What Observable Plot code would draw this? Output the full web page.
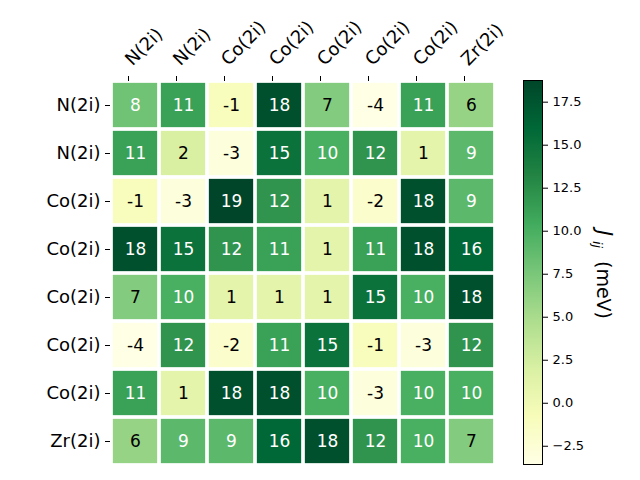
<!DOCTYPE html>
<html><head><meta charset="utf-8">
<script src="https://cdn.jsdelivr.net/npm/d3@7"></script>
<script src="https://cdn.jsdelivr.net/npm/@observablehq/plot@0.6"></script>
<style>
body{margin:0;background:#fff;}
#chart{position:relative;width:640px;height:480px;font-family:"DejaVu Sans",sans-serif;}
#chart svg{position:absolute;top:0;overflow:visible;}
</style></head><body><div id="chart"></div>
<script>
const rowLabels = ["N(2i)","N(2i)","Co(2i)","Co(2i)","Co(2i)","Co(2i)","Co(2i)","Zr(2i)"];
const colLabels = ["N(2i)","N(2i)","Co(2i)","Co(2i)","Co(2i)","Co(2i)","Co(2i)","Zr(2i)"];
const values = [
  [8, 11, -1, 18, 7, -3.56, 11, 6],
  [11, 2, -3, 15, 10, 12, 1, 9],
  [-1, -3, 18.76, 12, 1, -2, 18, 9],
  [18, 15, 12, 11, 1, 11, 18, 16],
  [7, 10, 1, 1, 1, 15, 10, 18],
  [-3.56, 12, -2, 11, 15, -1, -3, 12],
  [11, 1, 18, 18, 10, -3, 10, 10],
  [6, 9, 9, 16, 18, 12, 10, 7]
];
const cbTicks = [-2.5, 0, 2.5, 5, 7.5, 10, 12.5, 15, 17.5];
const vmin = -3.56, vmax = 18.76;
const ylgn = ["#ffffe5","#f7fcb9","#d9f0a3","#addd8e","#78c679","#41ab5d","#238443","#006837","#004529"];

const colorScale = {
  type: "linear",
  domain: ylgn.map((_, k) => vmin + k * (vmax - vmin) / (ylgn.length - 1)),
  range: ylgn,
  interpolate: "rgb"
};

const cells = [];
values.forEach((r, i) => r.forEach((v, j) => cells.push({i, j, v})));
const threshold = (vmin + vmax) / 2;

const main = Plot.plot({
  width: 500, height: 480,
  marginLeft: 110, marginRight: 5, marginTop: 80, marginBottom: 14,
  style: {fontFamily: "DejaVu Sans", fontSize: "18px", background: "transparent", color: "black"},
  x: {type: "band", domain: d3.range(8), padding: 0, axis: null},
  y: {type: "band", domain: d3.range(8), padding: 0, axis: null},
  color: colorScale,
  marks: [
    Plot.cell(cells, {x: "j", y: "i", fill: "v", inset: 1.85}),
    Plot.text(cells, {filter: d => d.v > threshold, x: "j", y: "i", text: d => String(Math.round(d.v)), fill: "white", fontSize: 17}),
    Plot.text(cells, {filter: d => d.v <= threshold, x: "j", y: "i", text: d => String(Math.round(d.v)), fill: "black", fontSize: 17}),
    Plot.axisX({anchor: "top", label: null, tickFormat: j => colLabels[j], tickRotate: -45, textAnchor: "start", tickSize: 5, tickPadding: 13, dx: -7, fontSize: 18}),
    Plot.axisY({anchor: "left", label: null, tickFormat: i => rowLabels[i], tickSize: 5, tickPadding: 5, fontSize: 18})
  ]
});

const N = 386;
const slices = d3.range(N).map(k => ({y1: vmin + k * (vmax - vmin) / N, y2: vmin + (k + 1) * (vmax - vmin) / N}));
const cb = Plot.plot({
  width: 130, height: 480,
  marginLeft: 13, marginRight: 98, marginTop: 80, marginBottom: 16,
  style: {fontFamily: "DejaVu Sans", fontSize: "13px", background: "transparent", color: "black"},
  x: {domain: [0, 1], axis: null},
  y: {domain: [vmin, vmax], axis: null},
  color: colorScale,
  marks: [
    Plot.rect(slices, {y1: "y1", y2: "y2", fill: d => (d.y1 + d.y2) / 2, shapeRendering: "crispEdges"}),
    Plot.frame({stroke: "black", strokeWidth: 1}),
    Plot.axisY({anchor: "right", label: null, ticks: cbTicks, tickFormat: d3.format(".1f"), tickSize: 5, tickPadding: 5, fontSize: 13})
  ]
});

const chart = document.getElementById("chart");
main.style.left = "0px";
cb.style.left = "510px";
chart.appendChild(main);
chart.appendChild(cb);

// colorbar label with italic J and subscript ij
const lab = d3.select(cb).append("text")
  .attr("transform", "translate(87,225) rotate(90)")
  .attr("text-anchor", "start")
  .attr("font-family", "DejaVu Sans")
  .attr("font-size", 19)
  .attr("fill", "black");
lab.append("tspan").attr("x", 5).attr("font-style", "italic").attr("font-size", 21).text("J");
lab.append("tspan").attr("x", 16).attr("font-style", "italic").attr("font-size", 13).attr("dy", 4).text("ij");
lab.append("tspan").attr("x", 36).attr("dy", -4).text("(meV)");
</script>
</body></html>
